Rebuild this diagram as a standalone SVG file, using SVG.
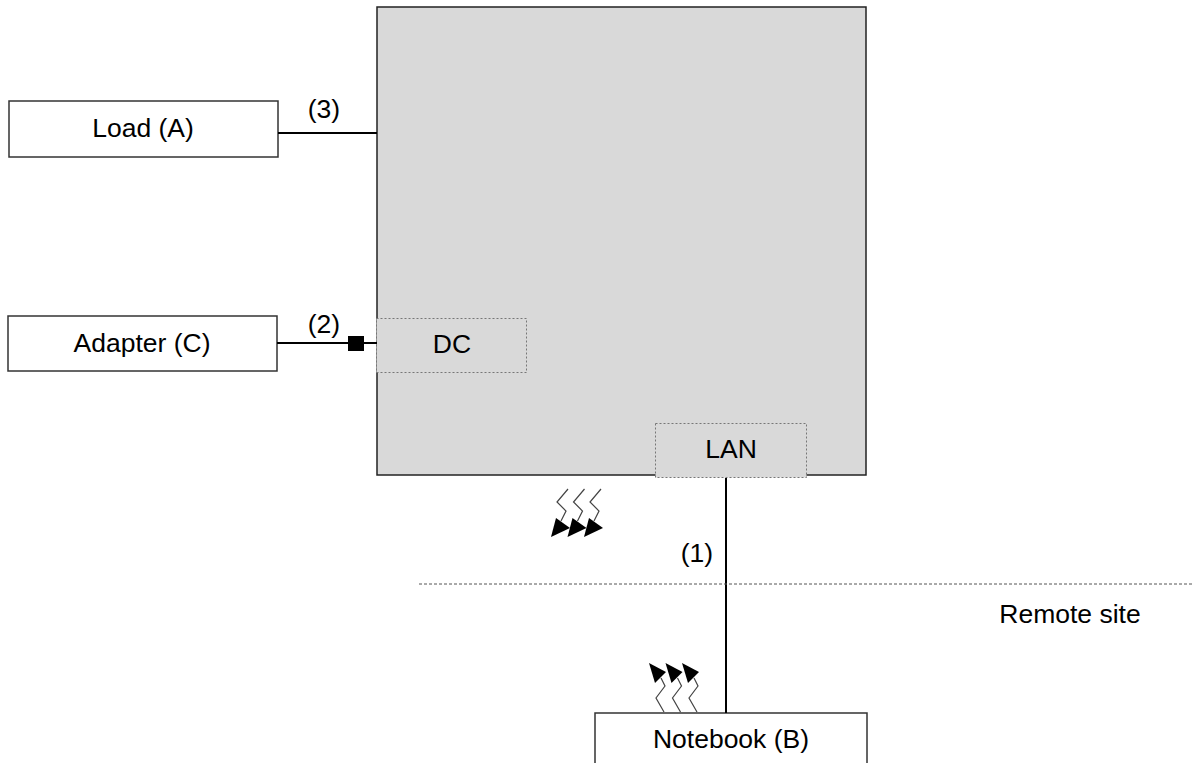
<svg xmlns="http://www.w3.org/2000/svg" width="1194" height="763" viewBox="0 0 1194 763">
<style>
.box{fill:#fff;stroke:#333;stroke-width:1.5}
.sub{fill:#d9d9d9;stroke:#777;stroke-width:1;stroke-dasharray:2 2}
.t{font-family:"Liberation Sans",Arial,sans-serif;font-size:26.5px;fill:#000;text-anchor:middle}
.ln{stroke:#000;stroke-width:2;fill:none}
.zz{stroke:#444;stroke-width:1.2;fill:none}
</style>
<defs>
<g id="wtop"><polyline class="zz" points="568,489 557,502 566,511 561,521"/><polygon points="556,518 570,528 551,537" fill="#000"/></g>
<g id="wbot"><polyline class="zz" points="664,712 656,698 665,686 661,678"/><polygon points="649,663 666,672 655,683" fill="#000"/></g>
</defs>
<rect width="1194" height="763" fill="#fff"/>
<g id="main">
<rect x="377" y="7" width="489" height="468" fill="#d9d9d9" stroke="#222" stroke-width="1.5"/>
</g>
<g id="dc"><rect class="sub" x="376.5" y="318.5" width="150" height="54"/><text class="t" x="452" y="353">DC</text></g>
<g id="lan"><rect class="sub" x="655.5" y="423.5" width="151" height="54"/><text class="t" x="731" y="458">LAN</text></g>
<g id="load"><rect class="box" x="9" y="101" width="269" height="56"/><text class="t" x="143" y="137">Load (A)</text></g>
<g id="adapter"><rect class="box" x="8" y="316" width="269" height="55"/><text class="t" x="142" y="352">Adapter (C)</text></g>
<g id="notebook"><rect class="box" x="595" y="713" width="272" height="60"/><text class="t" x="731" y="748">Notebook (B)</text></g>
<g id="connectors">
<line class="ln" x1="278" y1="133" x2="377" y2="133"/>
<line class="ln" x1="277" y1="343" x2="377" y2="343"/>
<rect x="348" y="336" width="16" height="15" fill="#000"/>
<line class="ln" x1="726" y1="478" x2="726" y2="713"/>
<line x1="419" y1="584" x2="1194" y2="584" stroke="#555" stroke-width="1" stroke-dasharray="3 2"/>
<use href="#wtop"/><use href="#wtop" x="16.5"/><use href="#wtop" x="33"/>
<use href="#wbot"/><use href="#wbot" x="16.5"/><use href="#wbot" x="33"/>
</g>
<g id="labels">
<text class="t" x="324" y="118">(3)</text>
<text class="t" x="324" y="333">(2)</text>
<text class="t" x="697" y="562">(1)</text>
<text class="t" x="1070" y="623">Remote site</text>
</g>
</svg>
